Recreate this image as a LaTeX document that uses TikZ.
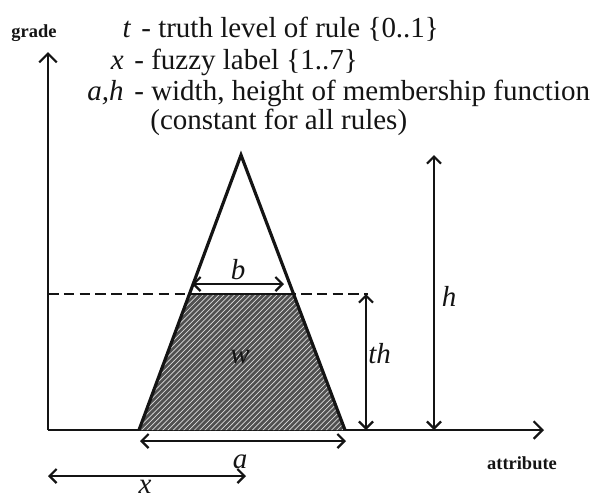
\documentclass[tikz,border=0pt]{standalone}
\usepackage{fontspec}
\setmainfont{Liberation Serif}
\usetikzlibrary{arrows.meta, patterns}
\definecolor{ink}{HTML}{141414}
\definecolor{hatch}{HTML}{505050}

\begin{document}
\begin{tikzpicture}[
    x=0.02cm, y=-0.02cm,
    every node/.style={font=\fontsize{16.5}{18}\selectfont, text=ink, inner sep=0pt},
    sym/.style={font=\fontsize{16.5}{18}\selectfont\itshape, text=ink},
    axlab/.style={font=\fontsize{10.5}{12}\selectfont\bfseries, text=ink},
    axis/.style={ink, line width=1.3pt, -{Straight Barb[length=5pt, width=10pt]}},
    dim/.style={ink, line width=1.3pt,
        {Straight Barb[length=4pt, width=8pt]}-{Straight Barb[length=4pt, width=8pt]}},
]
\useasboundingbox (0,0) rectangle (606,498);

% ================================================================ legend
\node[axlab] (grade) at (34,33) {grade};
\node[sym, anchor=base east] (kt) at (131,37) {t};
\node[anchor=base west] (dt) at (141,37) {- truth level of rule \{0..1\}};
\node[sym, anchor=base east] (kx) at (124,69) {x};
\node[anchor=base west] (dx) at (134,69) {- fuzzy label \{1..7\}};
\node[sym, anchor=base east] (kah) at (124,100) {a,h};
\node[anchor=base west] (dah) at (134,100) {- width, height of membership function};
\node[anchor=base west] (dah2) at (150,129) {(constant for all rules)};

% ================================================================ axes
\coordinate (O) at (48,430);
\coordinate (ytip) at (48,52);
\coordinate (xtip) at (544,430);
\draw[axis] (O) -- (ytip);
\draw[axis] (O) -- (xtip);
\node[axlab] (attr) at (522,463) {attribute};

% ================================================================ the membership function
\coordinate (apex) at (241,155);
\coordinate (baseL) at (139,430);
\coordinate (baseR) at (345,430);
\coordinate (cutL) at (189,294);
\coordinate (cutR) at (294,294);

% the part that fires, cut at t*h
\fill[hatch] (baseL) -- (cutL) -- (cutR) -- (baseR) -- cycle;
\fill[pattern=north east lines, pattern color=white!80!hatch]
    (baseL) -- (cutL) -- (cutR) -- (baseR) -- cycle;
\draw[ink, line width=1.8pt, line join=miter] (baseL) -- (apex) -- (baseR);
\draw[ink, line width=1.3pt] (cutL) -- (cutR);
\node[sym] (w) at (240,357) {w};

% level of the cut
\coordinate (dashL) at (48,294);
\coordinate (dashR) at (368,294);
\draw[ink, line width=0.8pt, dash pattern=on 6pt off 3pt] (dashL) -- (dashR);

% ================================================================ dimensions
\coordinate (bL) at (192,284);
\coordinate (bR) at (284,284);
\draw[dim] (bL) -- (bR);
\node[sym] (b) at (238,270) {b};

\coordinate (thT) at (366,294);
\coordinate (thB) at (366,430);
\draw[dim] (thT) -- (thB);
\node[sym, anchor=west] (th) at (368,354) {th};

\coordinate (hT) at (434,155);
\coordinate (hB) at (434,430);
\draw[dim] (hT) -- (hB);
\node[sym] (h) at (449,296) {h};

\coordinate (aL) at (140,441);
\coordinate (aR) at (346,441);
\draw[dim] (aL) -- (aR);
\node[sym, anchor=base] (a) at (240,468) {a};

\coordinate (xL) at (48,476);
\coordinate (xR) at (246,476);
\draw[dim] (xL) -- (xR);
\node[sym, anchor=base] (x) at (145,493) {x};
\end{tikzpicture}
\end{document}
